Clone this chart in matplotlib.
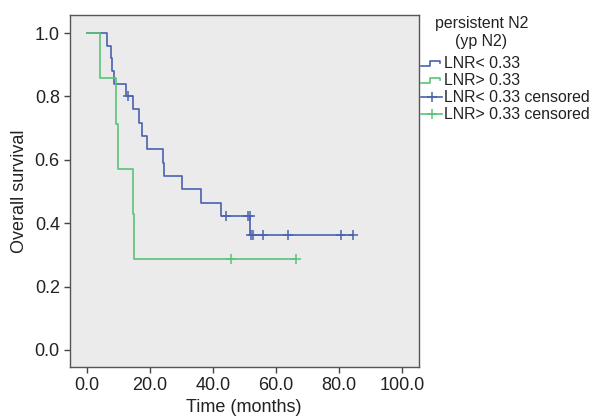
import numpy as np
import matplotlib
matplotlib.use("Agg")
import matplotlib.pyplot as plt
from matplotlib.lines import Line2D
from matplotlib.legend_handler import HandlerBase

plt.rcParams['font.family'] = ['Liberation Sans', 'DejaVu Sans']

# Kaplan-Meier steps (months, survival)
low_times = [0, 6.4, 7.6, 8.1, 8.6, 12.5, 14.8, 16.5, 17.7, 19.1, 24.1, 24.6, 30.1, 36.1, 42.5, 51.8]
low_surv = [1.0, 0.96, 0.92, 0.88, 0.84, 0.80, 0.76, 0.717, 0.675, 0.633, 0.591, 0.55, 0.507, 0.465, 0.423, 0.362]
low_end = 84.2
low_censored = [13.1, 44.1, 51.0, 51.6, 52.1, 52.6, 55.7, 63.7, 80.4, 84.2]

high_times = [0, 4.4, 9.4, 9.8, 14.6, 15.1]
high_surv = [1.0, 0.857, 0.714, 0.571, 0.429, 0.286]
high_end = 66.3
high_censored = [45.6, 66.3]

labels = ["LNR< 0.33", "LNR> 0.33", "LNR< 0.33 censored", "LNR> 0.33 censored"]
legend_title = "persistent N2\n(yp N2)"

blue = "#4a62b0"
green = "#5cc27a"
text_col = "#222222"


def surv_at(times, surv, t):
    idx = np.searchsorted(times, t, side="right") - 1
    return np.asarray(surv)[idx]


class StepHandler(HandlerBase):
    # small step glyph used for the survival lines
    def create_artists(self, legend, orig_handle, xdescent, ydescent,
                       width, height, fontsize, trans):
        x0 = -xdescent
        lo = -ydescent + height * 0.2
        hi = -ydescent + height * 0.7
        xs = [x0, x0 + 0.42 * width, x0 + 0.42 * width, x0 + 0.92 * width, x0 + 0.92 * width]
        ys = [lo, lo, hi, hi, (lo + hi) / 2]
        ln = Line2D(xs, ys, color=orig_handle.get_color(), lw=1.2)
        ln.set_transform(trans)
        return [ln]


fig = plt.figure(figsize=(5.9, 4.17), dpi=100)
ax = fig.add_axes([0.1178, 0.1199, 0.5922, 0.8441])
ax.set_facecolor("#ebebeb")

for times, surv, end, cens, col in [
    (low_times, low_surv, low_end, low_censored, blue),
    (high_times, high_surv, high_end, high_censored, green),
]:
    xs = list(times) + [end]
    ys = list(surv) + [surv[-1]]
    ax.step(xs, ys, where="post", color=col, lw=1.2)
    ax.plot(cens, surv_at(times, surv, cens), linestyle="none", marker="+",
            markersize=6.5, markeredgewidth=1.1, color=col)

ax.set_xlim(-5.4, 105.2)
ax.set_ylim(-0.054, 1.057)
ax.set_xticks(np.arange(0, 101, 20))
ax.set_xticklabels([f"{v:.1f}" for v in np.arange(0, 101, 20)])
ax.set_yticks(np.arange(0, 1.01, 0.2))
ax.set_yticklabels([f"{v:.1f}" for v in np.arange(0, 1.01, 0.2)])
ax.tick_params(labelsize=13, colors="#444444", labelcolor=text_col, length=4, width=1, pad=3)
for s in ax.spines.values():
    s.set_color("#555555")
    s.set_linewidth(1)

ax.set_xlabel("Time (months)", fontsize=13, color=text_col)
ax.set_ylabel("Overall survival", fontsize=13, color=text_col)
ax.xaxis.set_label_coords(0.5, -0.092)
ax.yaxis.set_label_coords(-0.12, 0.5)

handles = [
    Line2D([], [], color=blue),
    Line2D([], [], color=green),
    Line2D([], [], color=blue, marker="+", markersize=7, markeredgewidth=1.1, lw=1.2),
    Line2D([], [], color=green, marker="+", markersize=7, markeredgewidth=1.1, lw=1.2),
]
leg = fig.legend(handles, labels, loc="upper left", bbox_to_anchor=(0.714, 0.865),
                 frameon=False, fontsize=11.4, handlelength=1.3, handletextpad=0.15,
                 labelspacing=0.13, borderpad=0, borderaxespad=0, numpoints=1,
                 handler_map={handles[0]: StepHandler(), handles[1]: StepHandler()})
for t in leg.get_texts():
    t.set_color(text_col)

fig.text(0.816, 0.922, legend_title, ha="center", va="center", fontsize=11.4,
         color=text_col, multialignment="center", linespacing=1.3)

fig.savefig("out.png", dpi=100)
